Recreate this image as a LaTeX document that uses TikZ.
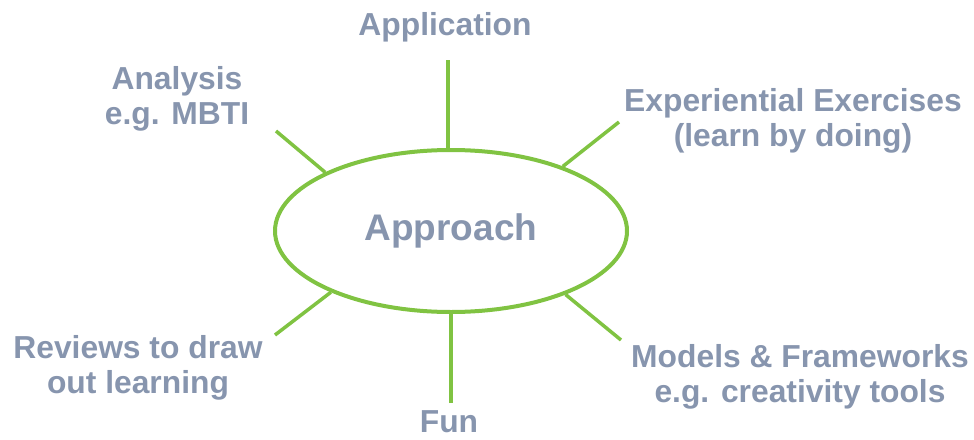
\documentclass[tikz,border=0pt]{standalone}
\usepackage{fontspec}
\setmainfont{Liberation Sans}
\usetikzlibrary{shapes}
\definecolor{spoke}{HTML}{80C342}
\definecolor{slate}{HTML}{8795AE}

\begin{document}
\begin{tikzpicture}[x=1pt,y=-1pt]
	\tikzstyle{lbl}=[align=center,inner sep=0pt,anchor=north,text=slate,font=\bfseries\fontsize{31.8}{35}\selectfont]
	\tikzstyle{leg}=[draw=spoke,line width=3.5pt]
	\useasboundingbox (0,0) rectangle (974,439);
	\node[ellipse,draw=spoke,line width=4pt,minimum width=352pt,minimum height=162pt,text=slate,font=\bfseries\fontsize{37}{40}\selectfont] (hub) at (451,231) {Approach};
	\node[lbl] (app) at (445,12) {Application};
	\node[lbl] (ana) at (177,66) {Analysis\\e.g. MBTI};
	\node[lbl] (exp) at (793,88) {Experiential Exercises\\(learn by doing)};
	\node[lbl] (rev) at (138,335) {Reviews to draw\\out learning};
	\node[lbl] (mod) at (800,344) {Models \& Frameworks\\e.g. creativity tools};
	\node[lbl] (fun) at (449,410) {Fun};
	\coordinate (appEnd) at (448,60);
	\coordinate (anaEnd) at (276,131);
	\coordinate (expEnd) at (619,122);
	\coordinate (revEnd) at (275,335);
	\coordinate (modEnd) at (621,340);
	\coordinate (funEnd) at (451,403);
	\draw[leg] (appEnd) -- (appEnd |- hub.north);
	\draw[leg] (anaEnd) -- (hub.155);
	\draw[leg] (expEnd) -- (hub.30);
	\draw[leg] (revEnd) -- (hub.207);
	\draw[leg] (modEnd) -- (hub.-29);
	\draw[leg] (funEnd) -- (funEnd |- hub.south);
\end{tikzpicture}
\end{document}
